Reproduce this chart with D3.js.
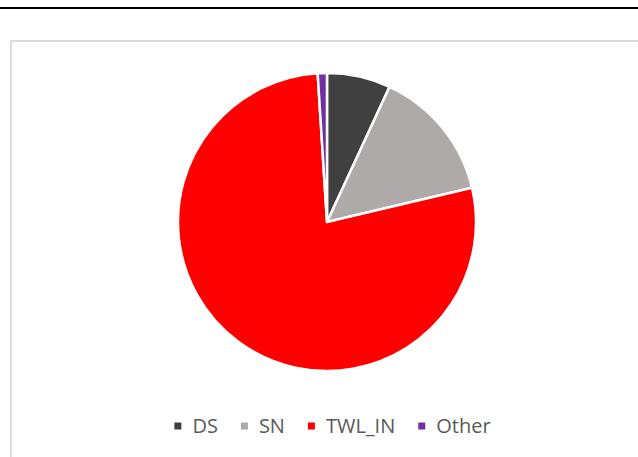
<!DOCTYPE html>
<html>
<head>
<meta charset="utf-8">
<script src="https://cdn.jsdelivr.net/npm/d3@7"></script>
<style>
  body { margin: 0; background: #fff; }
  svg { display: block; }
</style>
</head>
<body>
<svg id="chart" width="638" height="457"></svg>
<script>
// slice data (percent)
var categories = ["DS", "SN", "TWL_IN", "Other"];
var shares = [6.9, 14.4, 77.7, 1.0];
var colors = ["#404040", "#AEAAAA", "#FF0000", "#7030A0"];

var svg = d3.select("#chart"),
    width = +svg.attr("width"),
    height = +svg.attr("height");

// bit of the page text above the figure, cut off by the crop
svg.append("text")
  .attr("x", 27)
  .attr("y", -4)
  .attr("font-family", "Liberation Serif")
  .attr("font-size", 18)
  .attr("fill", "#000")
  .text("ggr");
svg.append("text")
  .attr("x", 72)
  .attr("y", -4)
  .attr("font-family", "Liberation Serif")
  .attr("font-size", 18)
  .attr("fill", "#000")
  .text("ay");

svg.append("line")
  .attr("x1", 0).attr("x2", width)
  .attr("y1", 8).attr("y2", 8)
  .attr("stroke", "#000")
  .attr("stroke-width", 2);

// chart area frame (runs off the right and bottom edge)
svg.append("rect")
  .attr("x", 11).attr("y", 41)
  .attr("width", width + 10).attr("height", height)
  .attr("fill", "#fff")
  .attr("stroke", "#D9D9D9")
  .attr("stroke-width", 2);

var data = categories.map(function(c, i) { return {name: c, value: shares[i]}; });
var color = d3.scaleOrdinal().domain(categories).range(colors);

var pie = d3.pie().sort(null).value(function(d) { return d.value; });
var arc = d3.arc().innerRadius(0).outerRadius(149);

var g = svg.append("g").attr("transform", "translate(327,222)");

g.selectAll("path")
  .data(pie(data))
  .enter().append("path")
  .attr("d", arc)
  .attr("fill", function(d) { return color(d.data.name); })
  .attr("stroke", "#fff")
  .attr("stroke-width", 2.5)
  .attr("stroke-linejoin", "round");

// legend, centered under the pie
var fontSize = 20, box = 7, boxGap = 11, itemGap = 23;
var legend = svg.append("g").attr("class", "legend");
var items = legend.selectAll("g")
  .data(categories)
  .enter().append("g");

items.append("rect")
  .attr("width", box).attr("height", box)
  .attr("y", -box / 2)
  .attr("fill", function(d) { return color(d); });

items.append("text")
  .attr("x", box + boxGap)
  .attr("y", 7)
  .attr("font-family", "Open Sans")
  .attr("font-size", fontSize)
  .attr("fill", "#595959")
  .text(function(d) { return d; });

var xPos = 0;
items.each(function() {
  var w = this.getBBox().width;
  d3.select(this).attr("transform", "translate(" + xPos + ",0)");
  xPos += w + itemGap;
});
var total = xPos - itemGap;
legend.attr("transform", "translate(" + (332.5 - total / 2) + ",426)");
</script>
</body>
</html>
